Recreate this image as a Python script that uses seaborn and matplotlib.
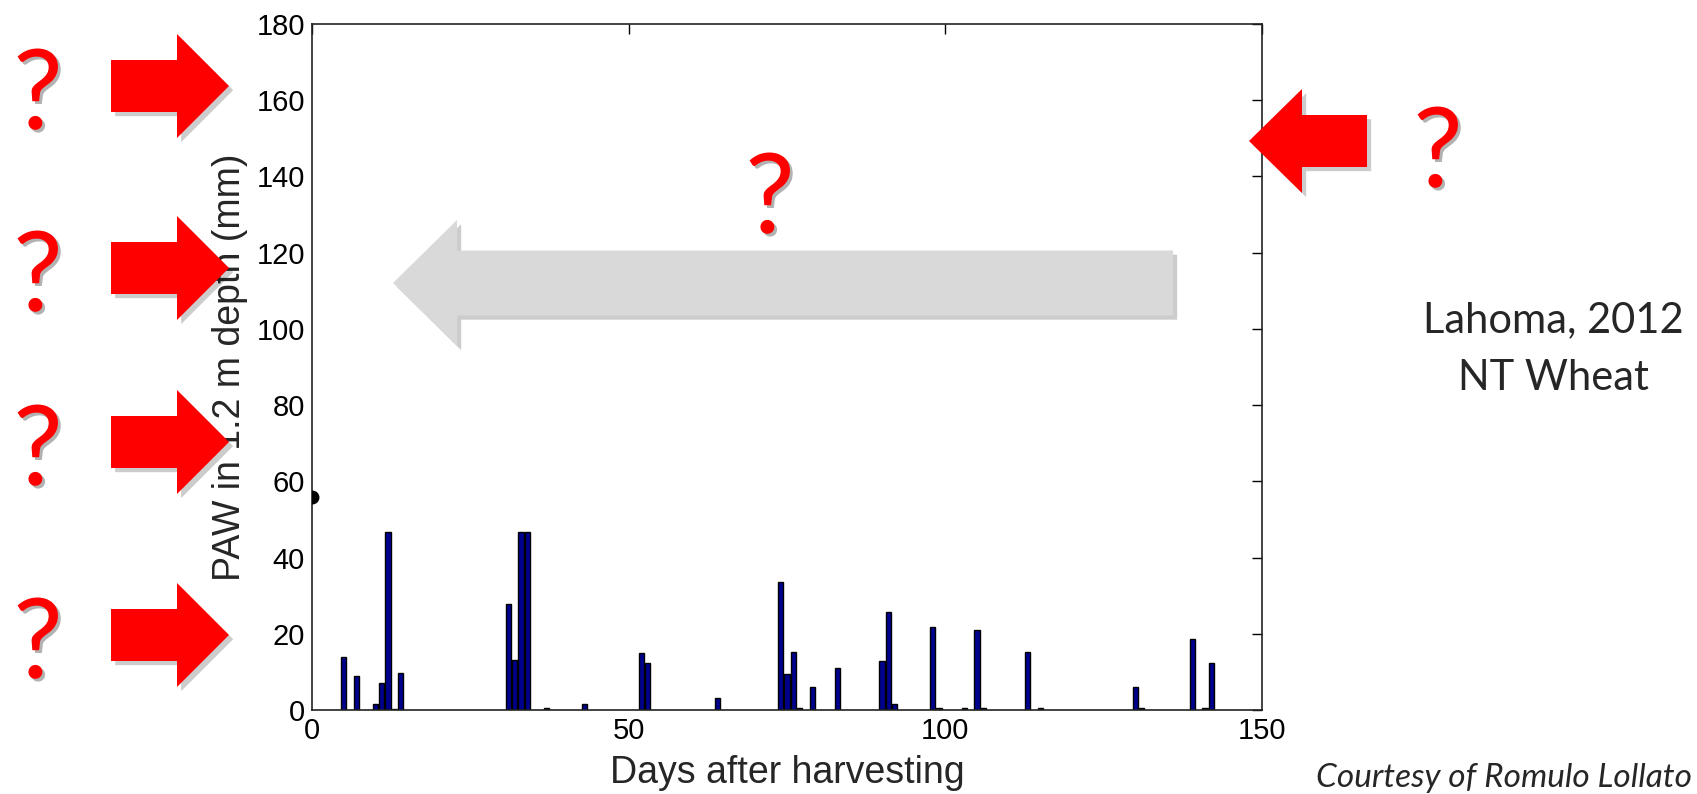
import numpy as np
import pandas as pd
import matplotlib
matplotlib.use("Agg")
import matplotlib.pyplot as plt
import matplotlib.patheffects as pe
from matplotlib.patches import Polygon
import seaborn as sns

# datos
dias = [5, 7, 10, 11, 12, 13, 14, 31, 32, 33, 34, 37, 43, 52, 53, 64,
        74, 75, 76, 77, 79, 83, 90, 91, 92, 98, 99, 103, 105, 106,
        113, 115, 130, 131, 139, 141, 142]
paw = [14.0, 9.0, 1.5, 7.2, 46.8, 0.3, 9.7, 27.9, 13.1, 46.8, 46.8, 0.4, 1.5, 15.0, 12.3, 3.1,
       33.6, 9.4, 15.3, 0.4, 6.0, 11.0, 12.9, 25.8, 1.6, 21.7, 0.6, 0.4, 21.0, 0.4,
       15.3, 0.4, 6.0, 0.5, 18.5, 0.4, 12.3]
punto_inicial = [0, 56]
x_ticks = [0, 50, 100, 150]
y_ticks = list(range(0, 181, 20))

df = pd.DataFrame({"dia": dias, "paw": paw})

sns.set_style("white")
plt.rcParams["font.family"] = ["Liberation Sans", "DejaVu Sans"]

W, H = 1697, 794
fig = plt.figure(figsize=(W / 100, H / 100), dpi=100)
ax = fig.add_axes([312 / W, 1 - 710 / H, (1262 - 312) / W, (710 - 24) / H])

sns.barplot(data=df, x="dia", y="paw", native_scale=True, color="#00008F",
            saturation=1, edgecolor="black", linewidth=1.0, width=0.8,
            errorbar=None, ax=ax)
ax.plot([punto_inicial[0]], [punto_inicial[1]], "o", color="black",
        markersize=9, clip_on=True, zorder=4)

ax.set_xlim(0, 150)
ax.set_ylim(0, 180)
ax.set_xticks(x_ticks)
ax.set_xticklabels([str(t) for t in x_ticks])
ax.set_yticks(y_ticks)
ax.tick_params(axis="both", direction="in", length=7, width=1, colors="black",
               labelsize=21, top=True, right=True)
ax.tick_params(axis="x", pad=5)
ax.tick_params(axis="y", pad=5)
for s in ax.spines.values():
    s.set_visible(True)
    s.set_color("#222222")
    s.set_linewidth(1.2)

ax.set_xlabel("Days after harvesting", fontsize=27)
ax.set_ylabel("PAW in 1.2 m depth (mm)", fontsize=27)
ax.xaxis.set_label_coords(0.5, -0.066)
ax.yaxis.set_label_coords(-0.067, 0.5)


# -------- flechas y signos de pregunta ---------
def px(x, y):
    return (x / W, 1 - y / H)


def flecha(tip_x, tip_y, base_x, tail_x, head_h, body_h, color):
    pts = [px(tip_x, tip_y), px(base_x, tip_y - head_h), px(base_x, tip_y - body_h),
           px(tail_x, tip_y - body_h), px(tail_x, tip_y + body_h),
           px(base_x, tip_y + body_h), px(base_x, tip_y + head_h)]
    p = Polygon(pts, closed=True, transform=fig.transFigure, facecolor=color,
                edgecolor="none", zorder=5)
    p.set_path_effects([pe.SimplePatchShadow(offset=(3, -3), shadow_rgbFace="black", alpha=0.2),
                        pe.Normal()])
    fig.add_artist(p)


def pregunta(x, y):
    t = fig.text(x / W, 1 - y / H, "?", color="#FF0000", fontsize=80,
                 family="Lato", ha="center", va="center", zorder=6)
    t.set_path_effects([pe.withSimplePatchShadow(offset=(2, -2), shadow_rgbFace="black", alpha=0.3)])


for ty in [86, 268, 442, 635]:
    flecha(229, ty, 177, 111, 52, 26, "#FF0000")
for qy in [98, 280, 454, 647]:
    pregunta(38, qy)

flecha(1249, 141, 1302, 1367, 52, 26, "#FF0000")
pregunta(1438, 156)

flecha(393, 283, 457, 1173, 63, 32.5, "#D9D9D9")
pregunta(770, 202)

fig.text(1553 / W, 1 - 332 / H, "Lahoma, 2012", fontsize=30, family="Lato",
         ha="center", va="baseline")
fig.text(1553 / W, 1 - 390 / H, "NT Wheat", fontsize=30, family="Lato",
         ha="center", va="baseline")
fig.text(1692 / W, 1 - 787 / H, "Courtesy of Romulo Lollato", fontsize=24,
         family="Lato", style="italic", ha="right", va="baseline")

fig.savefig("out.png", dpi=100, facecolor="white")
